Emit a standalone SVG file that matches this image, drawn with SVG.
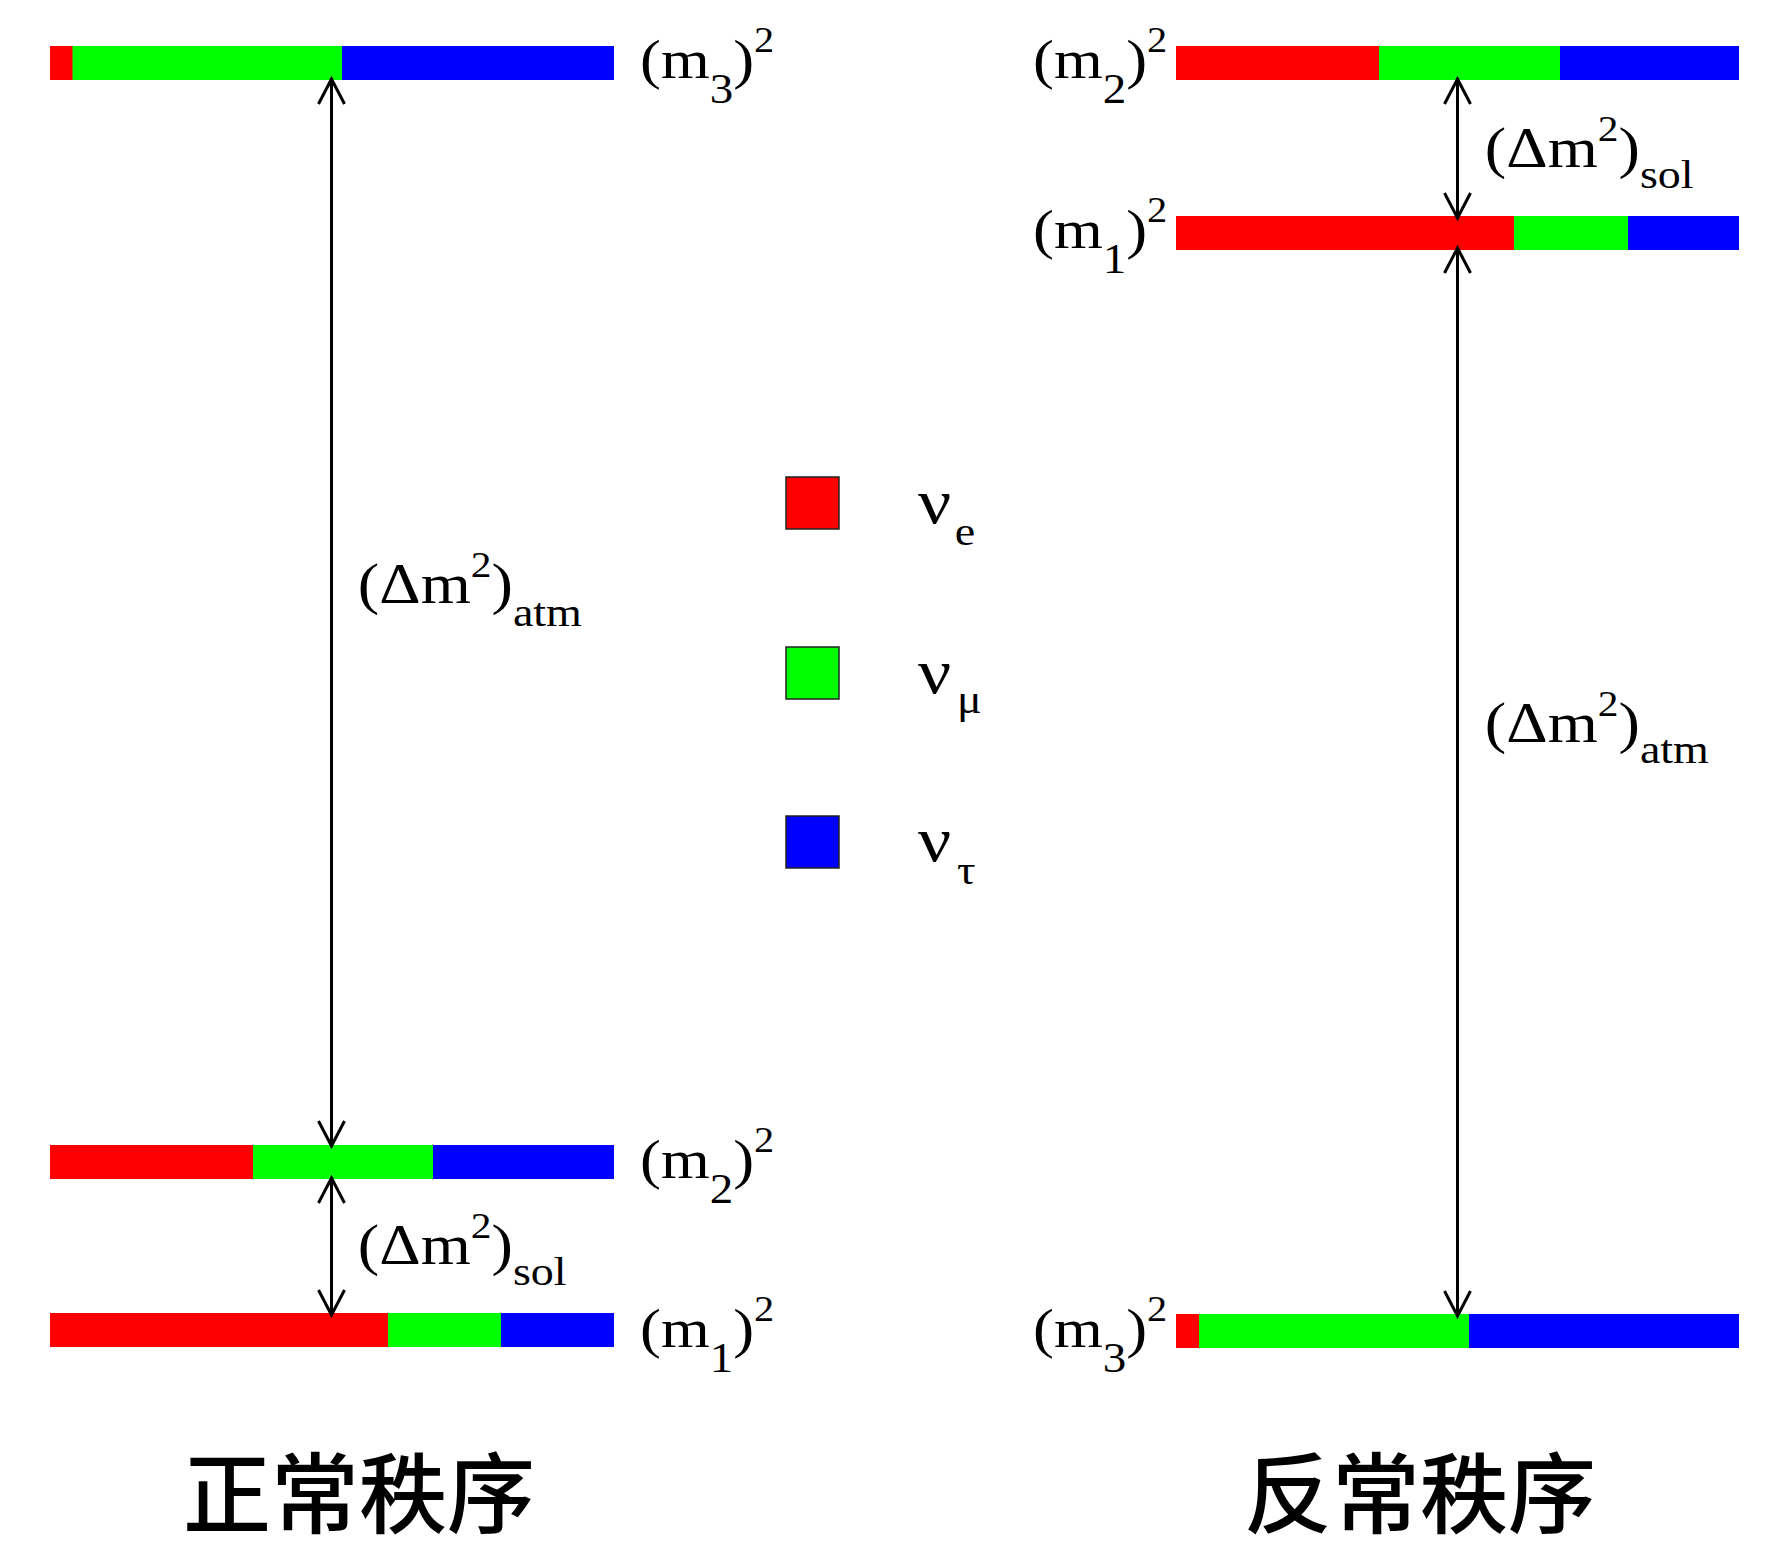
<svg xmlns="http://www.w3.org/2000/svg" width="1772" height="1543" viewBox="0 0 1772 1543">
  <style>
    .r { fill: #ff0000; }
    .g { fill: #00ff00; }
    .b { fill: #0000ff; }
    .lbl { font-family: "Liberation Serif", "Times New Roman", serif; font-size: 56px; fill: #000; }
    .sub { font-size: 42px; }
    .sup { font-size: 36px; }
    .lsub { font-size: 40px; }
    .nu { font-family: "Liberation Serif", "Times New Roman", serif; font-size: 64px; fill: #000; }
    .title { font-family: "Liberation Serif", "Noto Sans CJK SC", serif; font-size: 88px; font-weight: 500; fill: #000; text-anchor: middle; }
    .arrow { stroke: #000; stroke-width: 3; fill: none; marker-start: url(#head); marker-end: url(#head); }
    .key { stroke: #222; stroke-width: 1.5; }
  </style>
  <defs>
    <marker id="head" markerUnits="userSpaceOnUse" markerWidth="40" markerHeight="40" viewBox="-30 -20 40 40" refX="0" refY="0" orient="auto-start-reverse">
      <path d="M-25,-13 L0,0 L-25,13" fill="none" stroke="#000" stroke-width="3"/>
    </marker>
  </defs>
  <rect width="1772" height="1543" fill="#fff"/>

  <!-- normal ordering: m3 level -->
  <g id="normal-m3">
    <rect class="r" x="50" y="46" width="23" height="34"/>
    <rect class="g" x="72.5" y="46" width="270" height="34"/>
    <rect class="b" x="342" y="46" width="272" height="34"/>
    <text class="lbl" transform="translate(640,78) scale(1.12,1)"><tspan x="0" y="0">(m</tspan><tspan class="sub" y="25">3</tspan><tspan y="0">)</tspan><tspan class="sup" y="-26">2</tspan></text>
  </g>

  <!-- normal ordering: m2 level -->
  <g id="normal-m2">
    <rect class="r" x="50" y="1145" width="204" height="34"/>
    <rect class="g" x="253" y="1145" width="181" height="34"/>
    <rect class="b" x="433" y="1145" width="181" height="34"/>
    <text class="lbl" transform="translate(640,1178) scale(1.12,1)"><tspan x="0" y="0">(m</tspan><tspan class="sub" y="25">2</tspan><tspan y="0">)</tspan><tspan class="sup" y="-26">2</tspan></text>
  </g>

  <!-- normal ordering: m1 level -->
  <g id="normal-m1">
    <rect class="r" x="50" y="1313" width="339" height="34"/>
    <rect class="g" x="388" y="1313" width="114" height="34"/>
    <rect class="b" x="501" y="1313" width="113" height="34"/>
    <text class="lbl" transform="translate(640,1347) scale(1.12,1)"><tspan x="0" y="0">(m</tspan><tspan class="sub" y="25">1</tspan><tspan y="0">)</tspan><tspan class="sup" y="-26">2</tspan></text>
  </g>

  <!-- inverted ordering: m2 level -->
  <g id="inverted-m2">
    <rect class="r" x="1176" y="46" width="204" height="34"/>
    <rect class="g" x="1379" y="46" width="182" height="34"/>
    <rect class="b" x="1560" y="46" width="179" height="34"/>
    <text class="lbl" transform="translate(1033,78) scale(1.12,1)"><tspan x="0" y="0">(m</tspan><tspan class="sub" y="25">2</tspan><tspan y="0">)</tspan><tspan class="sup" y="-26">2</tspan></text>
  </g>

  <!-- inverted ordering: m1 level -->
  <g id="inverted-m1">
    <rect class="r" x="1176" y="216" width="339" height="34"/>
    <rect class="g" x="1514" y="216" width="115" height="34"/>
    <rect class="b" x="1628" y="216" width="111" height="34"/>
    <text class="lbl" transform="translate(1033,248) scale(1.12,1)"><tspan x="0" y="0">(m</tspan><tspan class="sub" y="25">1</tspan><tspan y="0">)</tspan><tspan class="sup" y="-26">2</tspan></text>
  </g>

  <!-- inverted ordering: m3 level -->
  <g id="inverted-m3">
    <rect class="r" x="1176" y="1314" width="24" height="34"/>
    <rect class="g" x="1199" y="1314" width="271" height="34"/>
    <rect class="b" x="1469" y="1314" width="270" height="34"/>
    <text class="lbl" transform="translate(1033,1347) scale(1.12,1)"><tspan x="0" y="0">(m</tspan><tspan class="sub" y="25">3</tspan><tspan y="0">)</tspan><tspan class="sup" y="-26">2</tspan></text>
  </g>

  <!-- splittings between levels -->
  <g id="connectors">
    <line class="arrow" x1="331.5" y1="79" x2="331.5" y2="1146"/>
    <line class="arrow" x1="331.5" y1="1178" x2="331.5" y2="1315"/>
    <line class="arrow" x1="1457.5" y1="79" x2="1457.5" y2="218"/>
    <line class="arrow" x1="1457.5" y1="248" x2="1457.5" y2="1316"/>
  </g>

  <!-- splitting labels -->
  <g id="label-atm-normal">
    <text class="lbl" transform="translate(359,603) scale(1.15,1)"><tspan x="-1" y="0">(Δm</tspan><tspan class="sup" y="-26">2</tspan><tspan y="0">)</tspan><tspan class="lsub" y="23">atm</tspan></text>
  </g>
  <g id="label-sol-normal">
    <text class="lbl" transform="translate(359,1264) scale(1.15,1)"><tspan x="-1" y="0">(Δm</tspan><tspan class="sup" y="-26">2</tspan><tspan y="0">)</tspan><tspan class="lsub" y="21">sol</tspan></text>
  </g>
  <g id="label-sol-inverted">
    <text class="lbl" transform="translate(1486,167) scale(1.15,1)"><tspan x="-1" y="0">(Δm</tspan><tspan class="sup" y="-26">2</tspan><tspan y="0">)</tspan><tspan class="lsub" y="21">sol</tspan></text>
  </g>
  <g id="label-atm-inverted">
    <text class="lbl" transform="translate(1486,742) scale(1.15,1)"><tspan x="-1" y="0">(Δm</tspan><tspan class="sup" y="-26">2</tspan><tspan y="0">)</tspan><tspan class="lsub" y="21">atm</tspan></text>
  </g>

  <!-- flavour key -->
  <g id="legend">
    <g id="key-e">
      <rect class="r key" x="786" y="477" width="53" height="52"/>
      <text class="nu" transform="translate(918,523) scale(1.15,1)"><tspan x="0" y="0">ν</tspan><tspan class="lsub" x="32" y="22">e</tspan></text>
    </g>
    <g id="key-mu">
      <rect class="g key" x="786" y="647" width="53" height="52"/>
      <text class="nu" transform="translate(918,693) scale(1.15,1)"><tspan x="0" y="0">ν</tspan><tspan class="lsub" x="34" y="20">μ</tspan></text>
    </g>
    <g id="key-tau">
      <rect class="b key" x="786" y="816" width="53" height="52"/>
      <text class="nu" transform="translate(918,861) scale(1.15,1)"><tspan x="0" y="0">ν</tspan><tspan class="lsub" x="34" y="23">τ</tspan></text>
    </g>
  </g>

  <!-- panel titles -->
  <g id="title-normal">
    <text class="title" x="359" y="1526">正常秩序</text>
  </g>
  <g id="title-inverted">
    <text class="title" x="1420" y="1526">反常秩序</text>
  </g>
</svg>
